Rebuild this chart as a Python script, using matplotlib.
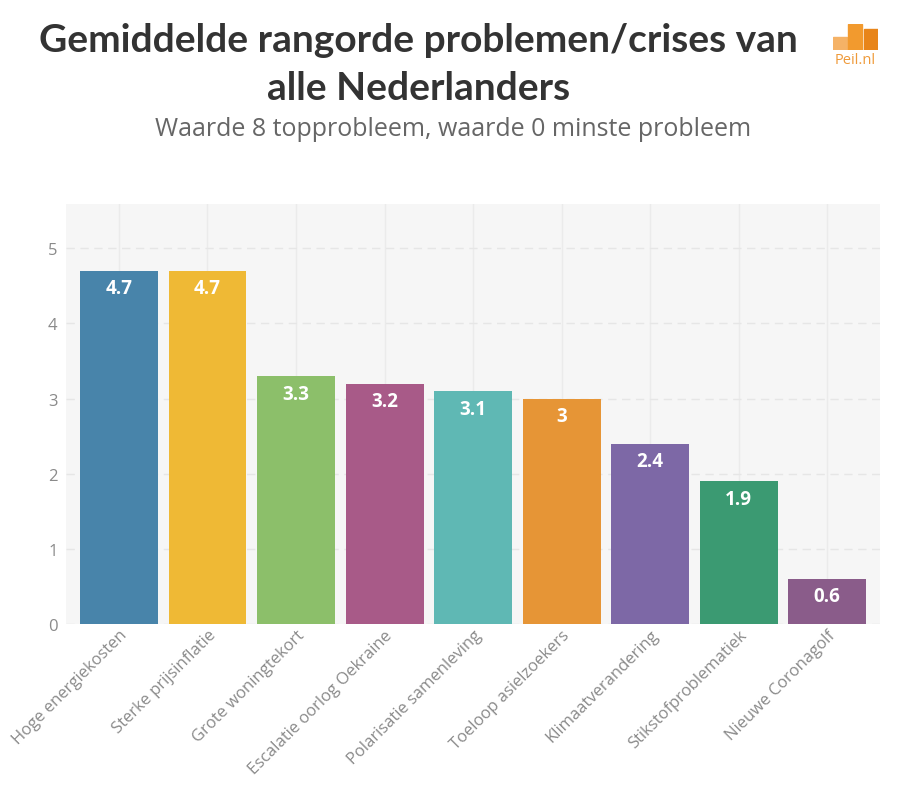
import matplotlib
matplotlib.use("Agg")
import matplotlib.pyplot as plt
from matplotlib.patches import Rectangle

categories = ["Hoge energiekosten", "Sterke prijsinflatie", "Grote woningtekort",
              "Escalatie oorlog Oekraine", "Polarisatie samenleving", "Toeloop asielzoekers",
              "Klimaatverandering", "Stikstofproblematiek", "Nieuwe Coronagolf"]
values = [4.7, 4.7, 3.3, 3.2, 3.1, 3.0, 2.4, 1.9, 0.6]
value_labels = ["4.7", "4.7", "3.3", "3.2", "3.1", "3", "2.4", "1.9", "0.6"]
colors = ["#4884aa", "#efb935", "#8cbf6a", "#a85a88", "#5fb8b4", "#e69536",
          "#7d68a6", "#3b9a72", "#8a5c8a"]
yticks = [0, 1, 2, 3, 4, 5]

plt.rcParams['font.family'] = ['Open Sans', 'DejaVu Sans']

fig = plt.figure(figsize=(9.02, 8.03), dpi=100)
ax = fig.add_axes([0.073, 0.2217, 0.903, 0.523])
ax.set_facecolor("#f6f6f6")
x = list(range(len(categories)))
ax.bar(x, values, width=0.88, color=colors, zorder=3)
ax.set_xlim(-0.6, len(categories) - 0.4)
ax.set_ylim(0, 5.59)
ax.set_yticks(yticks)
ax.set_yticklabels([str(t) for t in yticks], color="#8a8a8a", fontsize=12)
ax.set_xticks(x)
ax.set_xticklabels(categories, rotation=45, ha="right", rotation_mode="anchor",
                   color="#8a8a8a", fontsize=12)
ax.tick_params(axis="both", length=0, pad=6)
ax.tick_params(axis="x", pad=2)
for s in ax.spines.values():
    s.set_visible(False)
ax.yaxis.grid(True, color="#e6e6e6", linestyle=(0, (6, 4)), linewidth=1, zorder=0)
ax.xaxis.grid(True, color="#ebebeb", linestyle="-", linewidth=1, zorder=0)
ax.set_axisbelow(True)

for xi, v, lab in zip(x, values, value_labels):
    ax.text(xi, v - 0.1, lab, ha="center", va="top", color="white",
            fontsize=13.5, fontweight="bold", zorder=4)

fig.text(0.464, 1 - 40 / 803, "Gemiddelde rangorde problemen/crises van",
         ha="center", va="center", fontsize=28, fontweight="bold", color="#333333",
         family=["Lato", "DejaVu Sans"])
fig.text(0.464, 1 - 88 / 803, "alle Nederlanders",
         ha="center", va="center", fontsize=28, fontweight="bold", color="#333333",
         family=["Lato", "DejaVu Sans"])
fig.text(0.502, 1 - 130 / 803, "Waarde 8 topprobleem, waarde 0 minste probleem",
         ha="center", va="center", fontsize=18, color="#666666")

# logo
lax = fig.add_axes([833 / 902, 1 - 51 / 803, 45 / 902, 26 / 803])
lax.set_xlim(0, 10)
lax.set_ylim(0, 10)
lax.axis("off")
lax.add_patch(Rectangle((0.0, 0.0), 3.0, 5.0, color="#f5b266"))
lax.add_patch(Rectangle((3.4, 0.0), 3.0, 10.0, color="#f29a2e"))
lax.add_patch(Rectangle((6.8, 0.0), 3.2, 8.0, color="#e8851a"))
fig.text(855.5 / 902, 1 - 60 / 803, "Peil.nl", ha="center", va="center", fontsize=10.5,
         color="#ef9a3a")

fig.savefig("out.png", dpi=100, facecolor="white")
